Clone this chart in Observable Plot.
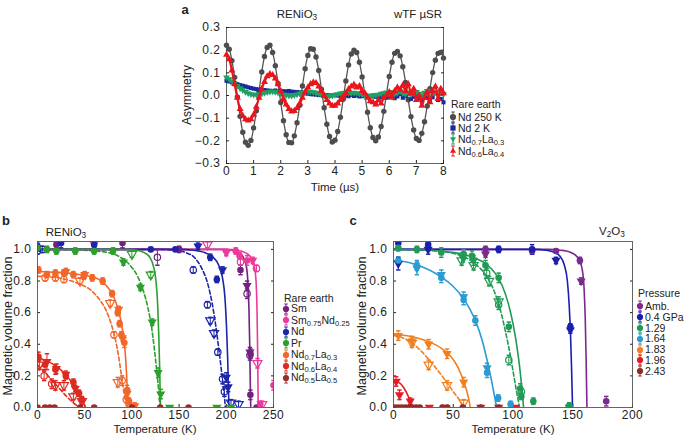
<!DOCTYPE html>
<html><head><meta charset="utf-8">
<script src="https://cdn.jsdelivr.net/npm/d3@7"></script>
<script src="https://cdn.jsdelivr.net/npm/@observablehq/plot@0.6"></script>
<style>
body{margin:0;background:#fff;font-family:"Liberation Sans",Arial,Helvetica,sans-serif;color:#222}
#fig{position:relative;width:685px;height:438px;overflow:hidden;background:#fff}
.abs{position:absolute;white-space:nowrap;line-height:1}
sub{font-size:0.72em;vertical-align:-0.25em;line-height:0}
.leg{position:absolute;white-space:nowrap;line-height:1;display:flex;align-items:center}
.leg svg{margin-right:1px}
</style></head><body><div id="fig"></div>
<script>
// ================= Panel a : wTF muSR asymmetry =================
const aSeries = ["Nd 250 K","Nd 2 K","Nd0.7La0.3","Nd0.6La0.4"];
const aColors = ["#4d4d4d","#1a2a9c","#1fa065","#e8161c"];
const aTime = [0,0.1,0.2,0.3,0.4,0.5,0.6,0.7,0.8,0.9,1,1.1,1.2,1.3,1.4,1.5,1.6,1.7,1.8,1.9,2,2.1,2.2,2.3,2.4,2.5,2.6,2.7,2.8,2.9,3,3.1,3.2,3.3,3.4,3.5,3.6,3.7,3.8,3.9,4,4.1,4.2,4.3,4.4,4.5,4.6,4.7,4.8,4.9,5,5.1,5.2,5.3,5.4,5.5,5.6,5.7,5.8,5.9,6,6.1,6.2,6.3,6.4,6.5,6.6,6.7,6.8,6.9,7,7.1,7.2,7.3,7.4,7.5,7.6,7.7,7.8,7.9,8];
const aNd250K = [.222,.204,.154,.080,-.006,-.092,-.162,-.206,-.220,-.198,-.143,-.067,.019,.104,.172,.212,.222,.190,.131,.053,-.031,-.111,-.173,-.207,-.209,-.178,-.120,-.043,.042,.118,.177,.206,.204,.170,.110,.028,-.054,-.127,-.181,-.205,-.197,-.159,-.096,-.017,.064,.135,.183,.200,.190,.147,.082,.004,-.074,-.142,-.185,-.200,-.183,-.137,-.070,.009,.084,.147,.186,.194,.175,.127,.058,-.019,-.093,-.152,-.190,-.198,-.167,-.116,-.046,.030,.101,.156,.186,.190,.165];
const aNd2K = [.065,.062,.058,.055,.05,.046,.043,.04,.036,.033,.03,.028,.026,.025,.024,.022,.021,.02,.022,.018,.02,.019,.018,.02,.017,.016,.015,.014,.012,.01,.008,.006,.005,.004,.002,.003,.001,.002,0,.001,.003,0,-.002,.001,0,-.003,.002,-.002,0,-.004,-.003,0,-.005,-.004,0,-.006,-.002,-.008,.004,-.01,-.005,.002,-.012,-.004,.006,-.01,-.003,.008,-.015,-.006,.004,-.012,-.02,.005,-.01,-.025,-.008,.01,-.02,-.015,-.03];
const aNd07La03 = [.08,.072,.062,.052,.042,.032,.024,.016,.01,.006,.004,.004,.006,.008,.012,.015,.017,.018,.016,.013,.009,.005,.002,0,0,.002,.005,.009,.012,.015,.016,.017,.015,.012,.008,.004,0,-.002,-.002,0,.003,.006,.009,.011,.012,.012,.011,.012,.01,.008,.005,.002,0,-.002,-.001,.002,.004,.008,.01,.014,.01,.016,.008,.012,.018,.01,.006,.014,.004,.01,.016,.008,0,.012,.02,-.004,.01,.015,.002,.012,.006];
const aNd06La04 = [.18,.16,.11,.05,-.01,-.06,-.09,-.105,-.11,-.105,-.085,-.05,-.01,.03,.06,.085,.095,.09,.075,.05,.02,-.015,-.04,-.06,-.07,-.068,-.055,-.035,-.01,.015,.035,.05,.058,.055,.04,.02,0,-.02,-.035,-.045,-.045,-.035,-.02,-.005,.01,.028,.04,.048,.035,.042,.02,.01,-.01,-.025,-.03,-.04,-.02,-.035,-.01,0,.015,-.01,.02,.035,.025,.045,.02,.05,.01,.03,-.02,0,-.045,-.01,.015,-.03,.02,.04,-.015,.03,.01];

// ================= Panel b : RENiO3 volume fraction =================
const bSeries = ["Sm","Sm0.75Nd0.25","Nd","Pr","Nd0.7La0.3","Nd0.6La0.4","Nd0.5La0.5"];
const bColors = ["#71217f","#ec3a9b","#1c25a8","#2c9f2d","#f2662a","#dd2a20","#9c2b2b"];
const bXTicks = [0,50,100,150,200,250];
const bFitSolid = [
 ["Sm",0,1],["Sm",195,1],["Sm",207,0.995],["Sm",214,0.98],["Sm",218,0.95],["Sm",221,0.9],["Sm",222.8,0.8],["Sm",224,0.62],["Sm",224.8,0.4],["Sm",225.3,0.2],["Sm",225.7,0.05],["Sm",225.9,0],
 ["Sm0.75Nd0.25",0,1],["Sm0.75Nd0.25",200,1],["Sm0.75Nd0.25",212,0.995],["Sm0.75Nd0.25",220,0.98],["Sm0.75Nd0.25",226,0.95],["Sm0.75Nd0.25",229.5,0.9],["Sm0.75Nd0.25",231.5,0.8],["Sm0.75Nd0.25",232.6,0.6],["Sm0.75Nd0.25",233.2,0.35],["Sm0.75Nd0.25",233.6,0.12],["Sm0.75Nd0.25",233.8,0],
 ["Nd",0,1],["Nd",150,1],["Nd",165,0.995],["Nd",177,0.98],["Nd",186,0.95],["Nd",192,0.9],["Nd",196,0.82],["Nd",198.5,0.7],["Nd",200.3,0.5],["Nd",201.5,0.3],["Nd",202.3,0.12],["Nd",202.8,0],
 ["Pr",0,1],["Pr",95,1],["Pr",105,0.995],["Pr",113,0.98],["Pr",119,0.95],["Pr",123,0.89],["Pr",125.5,0.8],["Pr",127.3,0.65],["Pr",128.5,0.45],["Pr",129.4,0.25],["Pr",130,0.08],["Pr",130.3,0],
 ["Nd0.7La0.3",0,0.86],["Nd0.7La0.3",20,0.855],["Nd0.7La0.3",40,0.845],["Nd0.7La0.3",55,0.83],["Nd0.7La0.3",65,0.81],["Nd0.7La0.3",73,0.77],["Nd0.7La0.3",80,0.71],["Nd0.7La0.3",85,0.63],["Nd0.7La0.3",89,0.53],["Nd0.7La0.3",91.5,0.43],["Nd0.7La0.3",93.5,0.3],["Nd0.7La0.3",94.8,0.15],["Nd0.7La0.3",95.6,0.03],["Nd0.7La0.3",95.8,0],
 ["Nd0.6La0.4",0,0.315],["Nd0.6La0.4",10,0.295],["Nd0.6La0.4",20,0.26],["Nd0.6La0.4",28,0.22],["Nd0.6La0.4",35,0.17],["Nd0.6La0.4",41,0.115],["Nd0.6La0.4",45.5,0.065],["Nd0.6La0.4",49,0.025],["Nd0.6La0.4",51,0]
];
const bFitDashed = [
 ["Nd",0,1],["Nd",130,1],["Nd",145,0.995],["Nd",157,0.98],["Nd",166,0.95],["Nd",174,0.88],["Nd",180,0.79],["Nd",185,0.66],["Nd",189,0.51],["Nd",192.5,0.35],["Nd",195.5,0.2],["Nd",197.8,0.08],["Nd",199,0],
 ["Pr",0,1],["Pr",40,0.998],["Pr",60,0.99],["Pr",75,0.98],["Pr",88,0.95],["Pr",98,0.9],["Pr",106,0.83],["Pr",112,0.74],["Pr",117,0.63],["Pr",121,0.5],["Pr",124,0.36],["Pr",126.5,0.22],["Pr",128.5,0.1],["Pr",129.8,0],
 ["Nd0.7La0.3",0,0.83],["Nd0.7La0.3",15,0.825],["Nd0.7La0.3",30,0.81],["Nd0.7La0.3",45,0.78],["Nd0.7La0.3",57,0.74],["Nd0.7La0.3",66,0.68],["Nd0.7La0.3",73,0.61],["Nd0.7La0.3",78,0.53],["Nd0.7La0.3",82.5,0.43],["Nd0.7La0.3",86,0.32],["Nd0.7La0.3",89,0.2],["Nd0.7La0.3",91.5,0.1],["Nd0.7La0.3",93.5,0.03],["Nd0.7La0.3",94.5,0],
 ["Nd0.6La0.4",0,0.27],["Nd0.6La0.4",6,0.235],["Nd0.6La0.4",12,0.195],["Nd0.6La0.4",18,0.155],["Nd0.6La0.4",24,0.115],["Nd0.6La0.4",30,0.075],["Nd0.6La0.4",36,0.04],["Nd0.6La0.4",41,0.015],["Nd0.6La0.4",45,0]
];
const bFilledCircles = [
 ["Sm",0,1.01,0.02],["Sm",20,1.03,0.03],["Sm",90,1.04,0.03],["Sm",150,1.0,0.02],["Sm",215,0.87,0.03],["Sm",225.6,0.34,0.03],["Sm",225.5,0.08,0.03],["Sm",232,0.0,0.01],
 ["Sm0.75Nd0.25",210,0.99,0.02],["Sm0.75Nd0.25",214,0.96,0.02],["Sm0.75Nd0.25",222,0.93,0.03],["Sm0.75Nd0.25",236,0.02,0.02],["Sm0.75Nd0.25",250,0.14,0.03],
 ["Nd",0,1.02,0.02],["Nd",25,1.04,0.03],["Nd",60,1.03,0.02],["Nd",120,1.0,0.01],["Nd",146,1.0,0.01],["Nd",183,0.95,0.02],["Nd",190,0.81,0.02],
 ["Pr",0,1.01,0.02],["Pr",10,1.0,0.02],["Pr",20,0.99,0.02],["Pr",40,0.99,0.02],["Pr",60,0.99,0.02],["Pr",80,0.99,0.02],
 ["Nd0.7La0.3",1,0.87,0.02],["Nd0.7La0.3",10,0.84,0.02],["Nd0.7La0.3",19,0.85,0.02],["Nd0.7La0.3",28,0.85,0.02],["Nd0.7La0.3",38,0.84,0.02],["Nd0.7La0.3",49,0.83,0.02],["Nd0.7La0.3",58,0.82,0.02],["Nd0.7La0.3",69,0.8,0.02],["Nd0.7La0.3",79,0.72,0.02],["Nd0.7La0.3",85,0.6,0.02],["Nd0.7La0.3",87,0.53,0.02],["Nd0.7La0.3",89,0.46,0.02],["Nd0.7La0.3",92,0.41,0.03],["Nd0.7La0.3",95,0.11,0.03],["Nd0.7La0.3",97,0.04,0.02],
 ["Nd0.6La0.4",1,0.32,0.03],["Nd0.6La0.4",8,0.27,0.03],["Nd0.6La0.4",19,0.24,0.03],["Nd0.6La0.4",30,0.2,0.02],["Nd0.6La0.4",38,0.16,0.02],["Nd0.6La0.4",44,0.09,0.02],["Nd0.6La0.4",47,0.05,0.02],
 ["Nd0.5La0.5",0,0,0.01],["Nd0.5La0.5",8,0,0.01],["Nd0.5La0.5",13,0,0.01],["Nd0.5La0.5",18,0,0.01],["Nd0.5La0.5",45,0,0.01],["Nd0.5La0.5",60,0,0.01],["Nd0.5La0.5",100,0,0.01],["Nd0.5La0.5",130,0,0.01],["Nd0.5La0.5",160,0,0.01]
];
const bFilledTriangles = [
 ["Sm",222,0.77,0.03],["Sm",225,0.35,0.03],
 ["Sm0.75Nd0.25",200,0.98,0.02],["Sm0.75Nd0.25",228,0.93,0.02],
 ["Nd",170,1.02,0.02],["Nd",196,0.87,0.02],["Nd",200,0.19,0.03],["Nd",202,0.13,0.03],
 ["Pr",91,0.92,0.02],["Pr",109,0.76,0.02],["Pr",121.5,0.54,0.02],["Pr",127.8,0.22,0.03],["Pr",130.5,0.085,0.03],["Pr",140,0,0.01],["Pr",190,0,0.01],["Pr",205,0,0.01],
 ["Nd0.7La0.3",30,0.86,0.02],["Nd0.7La0.3",50,0.84,0.02],["Nd0.7La0.3",86,0.62,0.02],["Nd0.7La0.3",90,0.44,0.02],["Nd0.7La0.3",95,0.09,0.03],["Nd0.7La0.3",103,0.01,0.02],
 ["Nd0.6La0.4",10,0.29,0.05],["Nd0.6La0.4",20,0.245,0.03],["Nd0.6La0.4",30,0.21,0.02],["Nd0.6La0.4",40,0.12,0.02]
];
const bOpenCircles = [
 ["Sm",127,0.95,0.05],["Sm",222,0.72,0.03],["Sm",225,0.33,0.03],
 ["Sm0.75Nd0.25",215,0.92,0.02],["Sm0.75Nd0.25",232,0.88,0.02],
 ["Nd",0,0.99,0.02],["Nd",5,1.0,0.02],["Nd",165,0.87,0.02],["Nd",180,0.65,0.02],["Nd",191,0.35,0.02],["Nd",196,0.18,0.03],["Nd",198,0.1,0.03],
 ["Nd0.7La0.3",8,0.82,0.02],["Nd0.7La0.3",19,0.82,0.02],["Nd0.7La0.3",28,0.81,0.02],["Nd0.7La0.3",81,0.46,0.02],["Nd0.7La0.3",89.7,0.17,0.03],["Nd0.7La0.3",94,0.05,0.02],
 ["Nd0.6La0.4",7,0.2,0.03],["Nd0.6La0.4",15,0.15,0.03]
];
const bOpenTriangles = [
 ["Sm0.75Nd0.25",60,1.04,0.02],["Sm0.75Nd0.25",180,1.03,0.02],["Sm0.75Nd0.25",233,0.28,0.03],["Sm0.75Nd0.25",238,0.02,0.02],
 ["Nd",183,0.55,0.02],["Nd",187,0.47,0.02],["Nd",205,0.03,0.02],["Nd",213,0.02,0.02],
 ["Pr",100,0.97,0.02],["Pr",120,0.84,0.02],
 ["Nd0.7La0.3",45,0.8,0.02],["Nd0.7La0.3",77,0.66,0.02],["Nd0.7La0.3",85,0.16,0.03],
 ["Nd0.6La0.4",2,0.27,0.03],["Nd0.6La0.4",19,0.14,0.03],["Nd0.6La0.4",28,0.14,0.03],["Nd0.6La0.4",38,0.07,0.02],["Nd0.6La0.4",47,0.04,0.02]
];

// ================= Panel c : V2O3 volume fraction =================
const cSeries = ["Amb.","0.4 GPa","1.29","1.64","1.83","1.96","2.43"];
const cColors = ["#7a2a8c","#1a1fae","#209a55","#2b9bd3","#f0801f","#e31b23","#8e2c2c"];
const cXTicks = [0,50,100,150,200];
const cFitSolid = [
 ["Amb.",0,1],["Amb.",130,1],["Amb.",140,0.995],["Amb.",147,0.985],["Amb.",152,0.965],["Amb.",155.5,0.93],["Amb.",158,0.87],["Amb.",159.5,0.75],["Amb.",160.5,0.55],["Amb.",161.2,0.3],["Amb.",161.7,0.08],["Amb.",161.9,0],
 ["0.4 GPa",0,1],["0.4 GPa",118,1],["0.4 GPa",128,0.995],["0.4 GPa",135,0.98],["0.4 GPa",139.5,0.955],["0.4 GPa",143,0.9],["0.4 GPa",145.5,0.8],["0.4 GPa",147,0.65],["0.4 GPa",148.2,0.45],["0.4 GPa",149,0.25],["0.4 GPa",149.6,0.07],["0.4 GPa",149.8,0],
 ["1.29",0,1],["1.29",30,0.995],["1.29",45,0.985],["1.29",58,0.97],["1.29",68,0.945],["1.29",77,0.91],["1.29",85,0.85],["1.29",91,0.77],["1.29",96,0.66],["1.29",100,0.53],["1.29",103,0.4],["1.29",105.5,0.26],["1.29",107.3,0.13],["1.29",108.5,0.03],["1.29",108.8,0],
 ["1.64",0,0.93],["1.64",10,0.922],["1.64",20,0.9],["1.64",30,0.87],["1.64",40,0.825],["1.64",50,0.765],["1.64",58,0.695],["1.64",64,0.62],["1.64",69,0.54],["1.64",74,0.43],["1.64",78,0.31],["1.64",81.5,0.19],["1.64",84.3,0.08],["1.64",86.3,0],
 ["1.83",0,0.46],["1.83",10,0.455],["1.83",20,0.44],["1.83",30,0.415],["1.83",40,0.375],["1.83",47,0.33],["1.83",52,0.28],["1.83",56,0.22],["1.83",59,0.16],["1.83",61.5,0.1],["1.83",63.3,0.04],["1.83",64.3,0],
 ["1.96",0,0.17],["1.96",3,0.165],["1.96",6,0.15],["1.96",9,0.12],["1.96",11.5,0.085],["1.96",13.5,0.05],["1.96",15,0.02],["1.96",15.8,0]
];
const cFitDashed = [
 ["1.29",0,1],["1.29",35,0.99],["1.29",50,0.975],["1.29",60,0.95],["1.29",68,0.91],["1.29",75,0.86],["1.29",81,0.79],["1.29",86,0.7],["1.29",90,0.6],["1.29",94,0.47],["1.29",97.5,0.34],["1.29",100.5,0.21],["1.29",103,0.1],["1.29",105,0.02],["1.29",105.5,0],
 ["1.83",0,0.455],["1.83",8,0.44],["1.83",15,0.41],["1.83",22,0.365],["1.83",30,0.3],["1.83",37,0.235],["1.83",44,0.165],["1.83",50,0.1],["1.83",55,0.05],["1.83",58.5,0.01],["1.83",59.5,0]
];
const cFilledCircles = [
 ["Amb.",77,1.0,0.02],["Amb.",116,0.99,0.02],["Amb.",136,0.99,0.01],["Amb.",156,0.93,0.02],["Amb.",178,0.04,0.03],
 ["0.4 GPa",4,1.04,0.03],["0.4 GPa",29,1.03,0.03],["0.4 GPa",88,1.0,0.02],["0.4 GPa",116,1.0,0.03],["0.4 GPa",148,0.51,0.02],
 ["1.29",4,1.01,0.02],["1.29",19.6,1.0,0.02],["1.29",40,0.98,0.03],["1.29",58.7,0.97,0.03],["1.29",65.7,0.96,0.03],["1.29",77,0.9,0.03],["1.29",88,0.82,0.03],["1.29",96.5,0.51,0.03],["1.29",106,0.12,0.03],["1.29",107,0.07,0.02],["1.29",117,0.04,0.02],["1.29",147,0.01,0.02],
 ["1.64",4,0.93,0.02],["1.64",19.6,0.9,0.03],["1.64",40,0.82,0.03],["1.64",58.7,0.68,0.03],["1.64",68.5,0.55,0.03],["1.64",78.3,0.22,0.03],["1.64",87.6,0.06,0.02],["1.64",98,0.02,0.02],
 ["2.43",1,0,0.01],["2.43",4,0,0.01],["2.43",7,0,0.01],["2.43",10,0,0.01],["2.43",13,0,0.01],["2.43",16,0,0.01],["2.43",19,0,0.01],["2.43",22,0,0.01],["2.43",41,0,0.01],["2.43",45,0,0.01],["2.43",58,0,0.01],["2.43",73,0,0.01],["2.43",88,0,0.01]
];
const cFilledTriangles = [
 ["Amb.",77,0.97,0.02],["Amb.",157,0.8,0.02],
 ["0.4 GPa",4,0.91,0.04],["0.4 GPa",29,1.0,0.03],["0.4 GPa",136,0.93,0.02],["0.4 GPa",148,0.49,0.02],
 ["1.29",58,0.95,0.03],["1.29",67,0.93,0.03],["1.29",147,0.0,0.02],
 ["1.64",19.6,0.88,0.04],["1.64",40,0.84,0.03],["1.64",58.7,0.7,0.03],["1.64",78.3,0.25,0.03],
 ["1.83",4,0.455,0.03],["1.83",15.4,0.42,0.03],["1.83",29.4,0.4,0.03],["1.83",44.8,0.34,0.03],["1.83",58.7,0.16,0.03],
 ["1.96",2.2,0.165,0.03],["1.96",5,0.08,0.03],["1.96",14,0.04,0.02],["1.96",30,0,0.01],["1.96",43,0,0.01],["1.96",73,0,0.01],["1.96",88,0,0.01],["1.96",102,0,0.01]
];
const cOpenCircles = [
 ["1.29",78,0.85,0.03],["1.29",88,0.65,0.03],["1.29",96.5,0.3,0.03],["1.29",107,0.1,0.02]
];
const cOpenTriangles = [
 ["1.29",57,0.93,0.03],["1.29",67,0.9,0.03],["1.29",80,0.8,0.03],["1.29",88,0.67,0.03],
 ["1.83",15.4,0.41,0.03],["1.83",29.4,0.27,0.03],["1.83",44.8,0.14,0.03],["1.83",58.7,0.03,0.02]
];

// ================= helpers =================
const FONT = '"Liberation Sans", Arial, Helvetica, sans-serif';
const fig = document.getElementById("fig");
const triDown = {draw(ctx, size){const s=Math.sqrt(4*size/Math.sqrt(3)),h=s*Math.sqrt(3)/2;ctx.moveTo(0,2*h/3);ctx.lineTo(-s/2,-h/3);ctx.lineTo(s/2,-h/3);ctx.closePath();}};
const triUp = {draw(ctx, size){const s=Math.sqrt(4*size/Math.sqrt(3)),h=s*Math.sqrt(3)/2;ctx.moveTo(0,-2*h/3);ctx.lineTo(-s/2,h/3);ctx.lineTo(s/2,h/3);ctx.closePath();}};
const cap = {draw(ctx){ctx.moveTo(-2.2,0);ctx.lineTo(2.2,0);}};
const fmt1 = d3.format(".1f");
const rowsPts = arr => arr.map(([s,T,f,e]) => ({s,T,f,e}));
const rowsFit = arr => arr.map(([s,T,f]) => ({s,T,f}));

function place(svg, left, top){
  const d = document.createElement("div");
  d.style.cssText = `position:absolute;left:${left}px;top:${top}px`;
  d.appendChild(svg); fig.appendChild(d);
}
function text(html, x, y, {size=11, anchor="middle", weight="normal"}={}){
  const d = document.createElement("div");
  d.className = "abs";
  const tx = anchor==="middle" ? "-50%" : anchor==="end" ? "-100%" : "0";
  d.style.cssText += `left:${x}px;top:${y}px;font-size:${size}px;font-weight:${weight};transform:translate(${tx},-50%)`;
  d.innerHTML = html; fig.appendChild(d);
}
function rotText(html, x, y, size){
  const d = document.createElement("div");
  d.className="abs";
  d.style.cssText += `left:${x}px;top:${y}px;font-size:${size}px;transform:translate(-50%,-50%) rotate(-90deg)`;
  d.innerHTML = html; fig.appendChild(d);
}
const chem = s => s.replace(/([A-Za-z])(\d\.\d+)/g, '$1<sub>$2</sub>');
function markerSVG(kind, color){
  let shape;
  if (kind==="circle") shape = `<circle r="3.1" fill="${color}"/>`;
  else if (kind==="square") shape = `<rect x="-2.6" y="-2.6" width="5.2" height="5.2" fill="${color}"/>`;
  else if (kind==="triDown") shape = `<path d="M0,3.2L-3,-1.8L3,-1.8Z" fill="${color}"/>`;
  else shape = `<path d="M0,-3.2L-3,1.8L3,1.8Z" fill="${color}"/>`;
  return `<svg width="8" height="12" viewBox="-4 -6 8 12"><line y1="-5" y2="5" stroke="${color}" stroke-width="1"/><line x1="-1.8" x2="1.8" y1="-5" y2="-5" stroke="${color}"/><line x1="-1.8" x2="1.8" y1="5" y2="5" stroke="${color}"/>${shape}</svg>`;
}
function legend(title, labels, colors, kinds, x, yTitle, ys, size){
  text(title, x, yTitle, {size, anchor:"start"});
  labels.forEach((l,i) => {
    const d = document.createElement("div");
    d.className="leg";
    d.style.cssText += `left:${x-2}px;top:${ys[i]}px;font-size:${size}px;transform:translate(0,-50%)`;
    d.innerHTML = markerSVG(kinds[i], colors[i]) + `<span>${chem(l)}</span>`;
    fig.appendChild(d);
  });
}
const axisStyle = {fontSize:"12px", letterSpacing:"0.5px", fontFamily: FONT, color:"#222", background:"transparent", overflow:"visible"};

// ================= build panel a =================
const aRows = [];
[aNd250K,aNd2K,aNd07La03,aNd06La04].forEach((arr,k) => arr.forEach((v,i) => aRows.push({s:aSeries[k], t:aTime[i], v})));
const bySeries = (rows, s) => rows.filter(d => d.s === s);
const plotA = Plot.plot({
  width:280, height:200, marginTop:27, marginRight:7, marginBottom:37, marginLeft:56,
  x:{domain:[0,8]}, y:{domain:[-0.3,0.3]},
  color:{domain:aSeries, range:aColors},
  style: axisStyle,
  marks:[
    Plot.frame({stroke:"#555", strokeWidth:0.9}),
    Plot.axisX({ticks:[0,1,2,3,4,5,6,7,8], tickSize:-3, tickPadding:6, label:null, tickFormat:d3.format("d")}),
    Plot.axisY({ticks:[-0.3,-0.2,-0.1,0,0.1,0.2,0.3], tickSize:-3, tickPadding:9, label:null, tickFormat:fmt1}),
    Plot.axisY({anchor:"right", ticks:[-0.3,-0.2,-0.1,0,0.1,0.2,0.3], tickSize:-3, tickFormat:()=>"", label:null}),
    Plot.line(bySeries(aRows,aSeries[0]), {x:"t", y:"v", stroke:"#555", strokeWidth:1.3, curve:"catmull-rom"}),
    Plot.dot(bySeries(aRows,aSeries[0]), {x:"t", y:"v", fill:"s", r:2.7}),
    Plot.dot(bySeries(aRows,aSeries[1]), {x:"t", y:"v", fill:"s", symbol:"square", r:2.3}),
    Plot.dot(bySeries(aRows,aSeries[2]), {x:"t", y:"v", fill:"s", symbol:triDown, r:2.5}),
    Plot.line(bySeries(aRows,aSeries[3]), {x:"t", y:"v", stroke:"s", strokeWidth:2.2, curve:"catmull-rom"}),
    Plot.dot(bySeries(aRows,aSeries[3]), {x:"t", y:"v", fill:"s", symbol:triUp, r:2.6})
  ]
});
place(plotA, 170, 0);

// ================= panels b & c =================
function fractionPanel({width, height, marginLeft, marginRight, xDomain, xTicks, series, colors, fitSolid, fitDashed, fc, ft, oc, ot}){
  const FC=rowsPts(fc), FT=rowsPts(ft), OC=rowsPts(oc), OT=rowsPts(ot);
  const all = [...FC,...FT,...OC,...OT];
  const yT = [0,0.2,0.4,0.6,0.8,1.0];
  return Plot.plot({
    width, height, marginTop:41, marginBottom:23, marginLeft, marginRight,
    x:{domain:xDomain}, y:{domain:[0,1.05]},
    color:{domain:series, range:colors},
    style: axisStyle,
    marks:[
      Plot.axisX({ticks:xTicks, tickSize:-3, tickPadding:6, label:null, tickFormat:d3.format("d")}),
      Plot.axisY({ticks:yT, tickSize:-3, tickPadding:9, label:null, tickFormat:fmt1}),
      Plot.axisY({anchor:"right", ticks:yT, tickSize:-3, tickFormat:()=>"", label:null}),
      Plot.line(rowsFit(fitDashed), {x:"T", y:"f", z:"s", stroke:"s", strokeWidth:1.6, strokeDasharray:"4,2.5", curve:"monotone-x", clip:true}),
      Plot.line(rowsFit(fitSolid), {x:"T", y:"f", z:"s", stroke:"s", strokeWidth:1.6, curve:"monotone-x", clip:true}),
      Plot.ruleX(all, {x:"T", y1:d=>d.f-d.e, y2:d=>d.f+d.e, stroke:"s", strokeWidth:1, clip:true}),
      Plot.dot(all, {x:"T", y:d=>d.f+d.e, symbol:cap, stroke:"s", r:2, clip:true}),
      Plot.dot(all, {x:"T", y:d=>d.f-d.e, symbol:cap, stroke:"s", r:2, clip:true}),
      Plot.dot(OC, {x:"T", y:"f", stroke:"s", fill:"none", strokeWidth:1.2, r:3.2, clip:true}),
      Plot.dot(OT, {x:"T", y:"f", stroke:"s", fill:"none", strokeWidth:1.2, symbol:triDown, r:3.4, clip:true}),
      Plot.dot(FT, {x:"T", y:"f", fill:"s", symbol:triDown, r:3.4, clip:true}),
      Plot.dot(FC, {x:"T", y:"f", fill:"s", r:3.3, clip:true}),
      Plot.frame({stroke:"#555", strokeWidth:0.9})
    ]
  });
}
place(fractionPanel({width:280, height:230, marginLeft:37, marginRight:7, xDomain:[0,250], xTicks:bXTicks,
  series:bSeries, colors:bColors, fitSolid:bFitSolid, fitDashed:bFitDashed,
  fc:bFilledCircles, ft:bFilledTriangles, oc:bOpenCircles, ot:bOpenTriangles}), 0, 200);
place(fractionPanel({width:295, height:230, marginLeft:48, marginRight:8, xDomain:[0,200], xTicks:cXTicks,
  series:cSeries, colors:cColors, fitSolid:cFitSolid, fitDashed:cFitDashed,
  fc:cFilledCircles, ft:cFilledTriangles, oc:cOpenCircles, ot:cOpenTriangles}), 345, 200);

// ================= texts =================
text("a", 185, 9, {size:13, weight:"bold"});
text("b", 6, 220, {size:13, weight:"bold"});
text("c", 353, 220, {size:13, weight:"bold"});
text("RENiO<sub>3</sub>", 297, 15, {size:11.5});
text("wTF µSR", 418, 15, {size:11.5});
text("RENiO<sub>3</sub>", 66, 233, {size:11.5});
text("V<sub>2</sub>O<sub>3</sub>", 612, 232, {size:11.5});
rotText("Asymmetry", 187, 95, 12);
text("Time (µs)", 335, 188, {size:11.5});
rotText("Magnetic volume fraction", 8, 326, 12.5);
text("Temperature (K)", 155, 430, {size:11.5});
rotText("Magnetic volume fraction", 362, 326, 12.5);
text("Temperature (K)", 513, 430, {size:11.5});

legend("Rare earth", aSeries, aColors, ["circle","square","triDown","triUp"], 451, 104, [117,128,139,151], 10.5);
legend("Rare earth", bSeries, bColors, ["circle","circle","circle","circle","circle","circle","circle"], 284, 298, [308.5,320,331.5,343,354.5,366,377.5], 10.5);
legend("Pressure", cSeries, cColors, ["circle","circle","circle","circle","circle","circle","circle"], 638, 293, [306,317,328,338.5,349.5,360,371], 10.5);
</script></body></html>
